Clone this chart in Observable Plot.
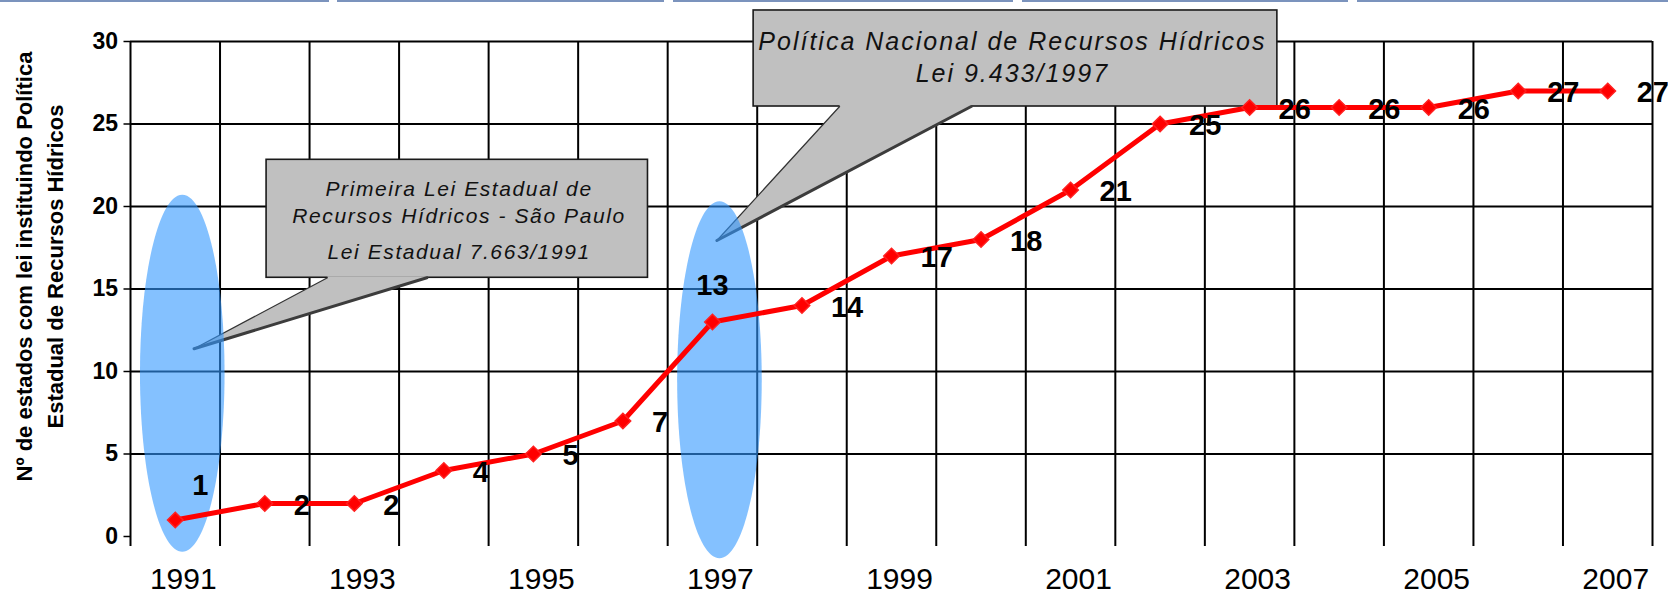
<!DOCTYPE html>
<html>
<head>
<meta charset="utf-8">
<script src="https://cdn.jsdelivr.net/npm/d3@7"></script>
<script src="https://cdn.jsdelivr.net/npm/@observablehq/plot@0.6"></script>
<style>
  html, body { margin: 0; padding: 0; background: #fff; }
  #wrap { position: relative; width: 1668px; height: 595px; }
  #chart svg { display: block; }
  #topbar { position: absolute; left: 0; top: 0; width: 1668px; height: 2px; }
  #topbar span { position: absolute; top: 0; height: 2px; background: #7b93bd; }
</style>
</head>
<body>
<div id="wrap">
  <div id="chart"></div>
  <div id="topbar">
    <span style="left:0;width:329px"></span>
    <span style="left:337px;width:327px"></span>
    <span style="left:673px;width:340px"></span>
    <span style="left:1022px;width:326px"></span>
    <span style="left:1357px;width:311px"></span>
  </div>
</div>
<script>
// ---- data ----
const years = [1991, 1992, 1993, 1994, 1995, 1996, 1997, 1998, 1999, 2000, 2001, 2002, 2003, 2004, 2005, 2006, 2007];
const states = [1, 2, 2, 4, 5, 7, 13, 14, 17, 18, 21, 25, 26, 26, 26, 27, 27];
const tickYears = [1991, 1993, 1995, 1997, 1999, 2001, 2003, 2005, 2007];
const yTicks = [0, 5, 10, 15, 20, 25, 30];
const yTitle = ["Nº de estados com lei instituindo Política", "Estadual de Recursos Hídricos"];
const note1Lines = ["Primeira Lei Estadual de", "Recursos Hídricos - São Paulo", "Lei Estadual 7.663/1991"];
const note2Lines = ["Política Nacional de Recursos Hídricos", "Lei 9.433/1997"];
const highlightYears = [1991, 1997];

const data = years.map((year, i) => ({year, value: states[i]}));

// ---- annotation geometry (data units) ----
const highlights = [{year: 1991, mid: 9.9}, {year: 1997, mid: 9.5}];
const note1 = {box: {x1: 1992.02, x2: 1996.28, y1: 15.68, y2: 22.83}, base: [1992.70, 1993.81], tip: {x: 1991.21, y: 11.38}, textX: 1994.17, baselines: [20.61, 18.99, 16.83]};
const note2 = {box: {x1: 1997.46, x2: 2003.31, y1: 26.06, y2: 31.88}, base: [1998.42, 1999.89], tip: {x: 1997.05, y: 17.94}, textX: 2000.35, baselines: [29.50, 27.53]};

const FONT = '"Liberation Sans", Arial, Helvetica, sans-serif';
const gridYears = years.map(y => y - 0.5).concat([years[years.length - 1] + 0.5]);

function ellipseSymbol(aspect) {
  return {
    draw(context, size) {
      const ry = Math.sqrt(size / Math.PI);
      const rx = ry * aspect;
      const k = 0.5522847498;
      context.moveTo(0, -ry);
      context.bezierCurveTo(k * rx, -ry, rx, -k * ry, rx, 0);
      context.bezierCurveTo(rx, k * ry, k * rx, ry, 0, ry);
      context.bezierCurveTo(-k * rx, ry, -rx, k * ry, -rx, 0);
      context.bezierCurveTo(-rx, -k * ry, -k * rx, -ry, 0, -ry);
      context.closePath();
    }
  };
}

function calloutMarks(note, lines, fontSize) {
  const b = note.box;
  const by = b.y1;
  const lift = 0.09;
  const poly = [
    {x: note.base[0], y: by + lift}, {x: note.base[0], y: by},
    note.tip,
    {x: note.base[1], y: by}, {x: note.base[1], y: by + lift}
  ];
  return [
    Plot.rect([b], {x1: "x1", x2: "x2", y1: "y1", y2: "y2", fill: "#c0c0c0", stroke: "#1a1a1a", strokeWidth: 1.6}),
    Plot.line(poly, {x: "x", y: "y", fill: "#c0c0c0", stroke: "none"}),
    Plot.line([{x: note.base[0], y: by}, note.tip], {x: "x", y: "y", stroke: "#333", strokeWidth: 1.2}),
    Plot.line([note.tip, {x: note.base[1], y: by}], {x: "x", y: "y", stroke: "#3c3c3c", strokeWidth: 3}),
    Plot.text(lines.map((t, i) => ({t, y: note.baselines[i]})), {
      x: () => note.textX, y: "y", text: "t", textAnchor: "middle", lineAnchor: "bottom",
      fontSize, fontStyle: "italic", fill: "#111"
    })
  ];
}

const chart = Plot.plot({
  width: 1668,
  height: 595,
  marginTop: 41,
  marginBottom: 59,
  marginLeft: 130,
  marginRight: 16,
  x: {type: "linear", domain: [years[0] - 0.5, years[years.length - 1] + 0.5], label: null},
  y: {domain: [0, 30], label: null},
  style: {fontFamily: FONT, background: "#fff", color: "#000", overflow: "visible"},
  marks: [
    Plot.ruleY(yTicks.filter(v => v > 0), {stroke: "#000", strokeWidth: 2}),
    Plot.ruleX(gridYears, {stroke: "#000", strokeWidth: 2, insetBottom: -10}),
    Plot.axisY({ticks: yTicks, tickSize: 6.5, tickPadding: 6, fontSize: 23, fontWeight: "bold", tickFormat: d => String(d), strokeWidth: 1.5}),
    Plot.axisX({ticks: tickYears, tickSize: 0, tickPadding: 31, fontSize: 30, dx: 8, tickFormat: d => String(d)}),
    Plot.text([yTitle.join("\n")], {
      text: d => d, frameAnchor: "left", textAnchor: "middle", lineAnchor: "middle", rotate: -90, dx: -92.5, dy: -22.5,
      fontSize: 22, fontWeight: "bold", lineHeight: 1.41, fill: "#000"
    }),
    ...calloutMarks(note1, note1Lines, 21),
    ...calloutMarks(note2, note2Lines, 25),
    Plot.dot(highlights, {x: "year", y: "mid", dx: 7, r: 178.5, symbol: ellipseSymbol(42.3 / 178.5), fill: "rgb(50,152,255)", fillOpacity: 0.6, stroke: "none"}),
    Plot.line(data, {x: "year", y: "value", stroke: "#ff0000", strokeWidth: 5}),
    Plot.dot(data, {x: "year", y: "value", symbol: "diamond2", r: 7, fill: "#ff0000", stroke: "#ff2020", strokeWidth: 1.5}),
    Plot.text(data.filter(d => !highlightYears.includes(d.year)), {
      x: "year", y: "value", text: d => String(d.value), textAnchor: "start", dx: 29, dy: 2,
      fontSize: 29, fontWeight: "bold", fill: "#000"
    }),
    Plot.text(data.filter(d => d.year === highlightYears[0]), {
      x: "year", y: "value", text: d => String(d.value), textAnchor: "start", dx: 17, dy: -34,
      fontSize: 29, fontWeight: "bold", fill: "#000"
    }),
    Plot.text(data.filter(d => d.year === highlightYears[1]), {
      x: "year", y: "value", text: d => String(d.value), textAnchor: "middle", dx: 0, dy: -36,
      fontSize: 29, fontWeight: "bold", fill: "#000"
    })
  ]
});

// widen the callout lettering like the original slide text
d3.select(chart).selectAll("text")
  .filter(function () { return note1Lines.includes(this.textContent); })
  .attr("letter-spacing", "1.6px");
d3.select(chart).selectAll("text")
  .filter(function () { return note2Lines.includes(this.textContent); })
  .attr("letter-spacing", "2px");

document.getElementById("chart").appendChild(chart);
</script>
</body>
</html>
